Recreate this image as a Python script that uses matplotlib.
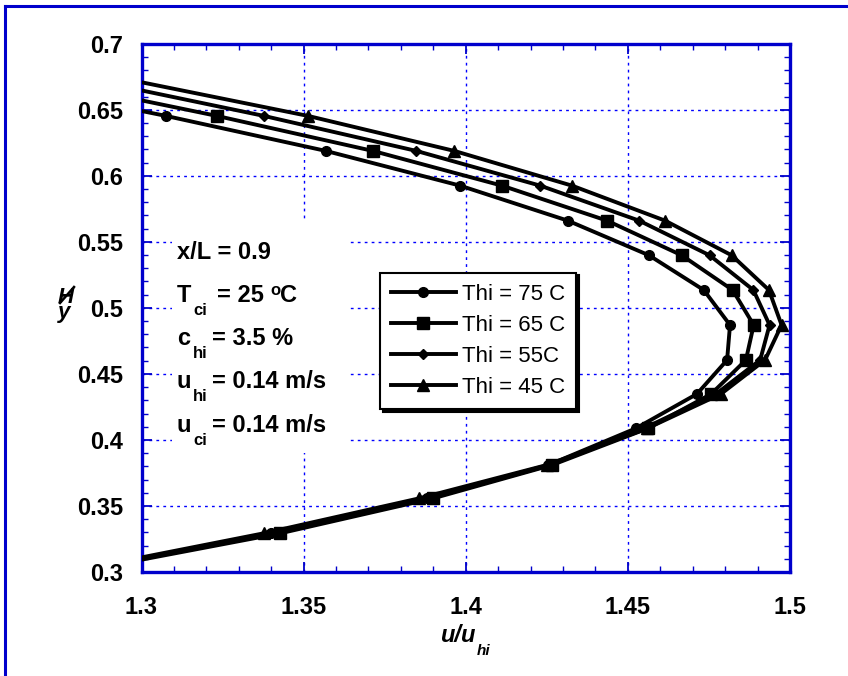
import matplotlib
matplotlib.use('Agg')
import matplotlib.pyplot as plt
from matplotlib.ticker import MultipleLocator, FuncFormatter
from matplotlib.lines import Line2D
from matplotlib.patches import Rectangle

plt.rcParams['font.family'] = ['Liberation Sans', 'DejaVu Sans']

# y/H of the profile points (first and last sit just outside the axes)
y_h = [0.6718, 0.6453, 0.6188, 0.5925, 0.5660, 0.5398, 0.5135, 0.4870,
       0.4605, 0.4348, 0.4088, 0.3810, 0.3558, 0.3293, 0.3028]

# u/u_hi for each hot inlet temperature
u_75 = [1.254, 1.3076, 1.3569, 1.3983, 1.4315, 1.4565, 1.4734, 1.4815,
        1.4806, 1.4713, 1.4525, 1.4255, 1.3880, 1.3400, 1.2840]
u_65 = [1.271, 1.3233, 1.3714, 1.4112, 1.4436, 1.4666, 1.4823, 1.4888,
        1.4864, 1.4757, 1.4562, 1.4266, 1.3900, 1.3428, 1.2860]
u_55 = [1.286, 1.3378, 1.3848, 1.4230, 1.4535, 1.4752, 1.4887, 1.4937,
        1.4908, 1.4772, 1.4550, 1.4260, 1.3885, 1.3400, 1.2845]
u_45 = [1.298, 1.3514, 1.3965, 1.4328, 1.4615, 1.4820, 1.4935, 1.4974,
        1.4923, 1.4787, 1.4560, 1.4250, 1.3857, 1.3377, 1.2830]

series = [u_75, u_65, u_55, u_45]
labels = ['Thi = 75 C', 'Thi = 65 C', 'Thi = 55C', 'Thi = 45 C']
markers = ['o', 's', 'D', '^']
msizes = [7, 8, 5.5, 8.5]

W, H = 848, 676
blue = '#0000CC'

fig = plt.figure(figsize=(W / 100, H / 100), dpi=100)
ax = fig.add_axes([141.5 / W, 1 - 572 / H, 648.5 / W, 528.3 / H])

for u, lab, m, ms in zip(series, labels, markers, msizes):
    ax.plot(u, y_h, color='black', lw=2.8, marker=m, ms=ms, label=lab, zorder=3)

ax.set_xlim(1.3, 1.5)
ax.set_ylim(0.3, 0.7)
ax.xaxis.set_major_locator(MultipleLocator(0.05))
ax.xaxis.set_minor_locator(MultipleLocator(0.01))
ax.yaxis.set_major_locator(MultipleLocator(0.05))
ax.yaxis.set_minor_locator(MultipleLocator(0.01))
fmt = FuncFormatter(lambda v, p: '%g' % round(v, 3))
ax.xaxis.set_major_formatter(fmt)
ax.yaxis.set_major_formatter(fmt)

ax.tick_params(which='both', direction='in', top=True, right=True, color=blue)
ax.tick_params(which='major', length=7, width=1.3, labelsize=17)
ax.tick_params(which='minor', length=4, width=1.0)
ax.tick_params(axis='x', which='major', pad=17)
ax.tick_params(axis='y', which='major', pad=13)
for t in ax.get_xticklabels() + ax.get_yticklabels():
    t.set_fontweight('bold')
for sp in ax.spines.values():
    sp.set_color(blue)
    sp.set_linewidth(2.4)

ax.grid(True, which='major', color='#0000FF', lw=1.0, ls=(0, (2, 3)))
ax.set_axisbelow(True)

# white block behind the condition notes
ax.add_patch(Rectangle((0.047, 0.225), 0.27, 0.44, transform=ax.transAxes,
                       facecolor='white', edgecolor='none', zorder=1.5))

leg = ax.legend(loc='upper left', bbox_to_anchor=(0.3678, 0.5665), borderaxespad=0,
                fontsize=16, frameon=True, fancybox=False, edgecolor='black',
                shadow={'color': 'black', 'alpha': 1}, handlelength=2.9,
                handletextpad=0.3, labelspacing=0.45, borderpad=0.5, numpoints=1)
leg.get_frame().set_linewidth(1.5)
leg.get_frame().set_alpha(1)


def put(x, y, s, size=17, **kw):
    fig.text(x / W, 1 - y / H, s, fontsize=size, fontweight='bold', va='baseline', **kw)


# condition notes
put(177, 259, 'x/L = 0.9')
put(177, 302, 'T')
put(193, 315, 'ci', 12)
put(217, 302, '= 25')
put(270, 295, 'o', 12)
put(280, 302, 'C')
put(177, 345, 'c')
put(193, 358, 'hi', 12)
put(212, 345, '= 3.5 %')
put(177, 388, 'u')
put(193, 401, 'hi', 12)
put(212, 388, '= 0.14 m/s')
put(177, 431.7, 'u')
put(193, 445, 'ci', 12)
put(212, 431.7, '= 0.14 m/s')

# axis titles
put(440, 642, 'u/u', 17, fontstyle='italic')
put(477, 655, 'hi', 11, fontstyle='italic')
fig.text(58 / W, 1 - 318 / H, 'H\ny', fontsize=16, fontweight='bold',
         fontstyle='italic', va='baseline', linespacing=0.62)
fig.add_artist(Line2D([60 / W, 74 / W], [1 - 303 / H, 1 - 287 / H], color='black', lw=1.8))

# outer frame (top and left edges)
fig.add_artist(Line2D([5 / W, 5 / W], [0, 1 - 5.5 / H], color=blue, lw=2.2))
fig.add_artist(Line2D([5 / W, 1], [1 - 5.5 / H, 1 - 5.5 / H], color=blue, lw=2.2))

fig.savefig('out.png', dpi=100)
